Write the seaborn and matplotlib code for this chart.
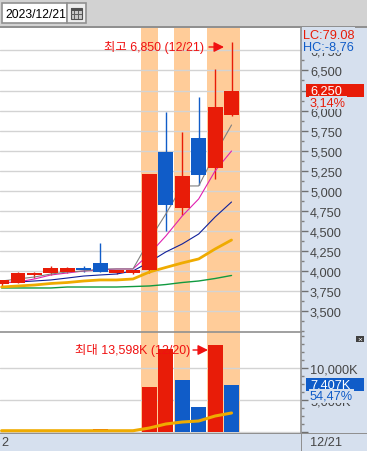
import numpy as np
import pandas as pd
import matplotlib
matplotlib.use("Agg")
import matplotlib.pyplot as plt
from matplotlib.patches import Rectangle, FancyArrowPatch
from matplotlib.ticker import MultipleLocator
import seaborn as sns

# ---------- data ----------
index = list(range(15))
open_ = [3838, 3850, 3950, 3975, 3987, 4037, 4100, 3975, 3975, 4015, 5484, 4785, 5658, 5284, 5945]
close = [3888, 3975, 3975, 4037, 4037, 4012, 3987, 4012, 4012, 5210, 4823, 5185, 5197, 6045, 6250]
high = [3888, 3987, 3987, 4062, 4050, 4062, 4350, 4012, 4012, 5210, 5982, 5733, 6170, 6519, 6850]
low = [3816, 3850, 3912, 3950, 3975, 3987, 3987, 3962, 3962, 3975, 4502, 4698, 5072, 5147, 5933]
ma_gray = [3875, 3900, 3925, 3962, 3987, 4000, 4025, 4025, 4025, 4386, 4711, 5060, 5060, 5459, 5820]
ma_pink = [3851, 3863, 3900, 3950, 3975, 4000, 4012, 4025, 4025, 4212, 4436, 4686, 4898, 5247, 5496]
ma_navy = [3851, 3863, 3875, 3888, 3912, 3937, 3950, 3962, 4000, 4112, 4237, 4337, 4461, 4673, 4860]
ma_orange = [3800, 3813, 3825, 3844, 3856, 3875, 3888, 3888, 3900, 3987, 4044, 4100, 4150, 4274, 4386]
ma_green = [3788, 3788, 3788, 3788, 3800, 3800, 3800, 3800, 3806, 3813, 3831, 3856, 3875, 3906, 3944]
volume = [60, 80, 60, 70, 60, 60, 450, 60, 70, 7000, 12900, 8100, 3900, 13598, 7407]
volume_rising = [True, True, False, True, False, False, True, False, True, True, True, False, False, True, False]
vol_ma = [200, 200, 200, 200, 200, 200, 200, 200, 200, 625, 1250, 1560, 1720, 2500, 2970]
highlight_groups = [(9, 9), (11, 11), (13, 14)]
price_ticks = [3500, 3750, 4000, 4250, 4500, 4750, 5000, 5250, 5500, 5750, 6000, 6250, 6500, 6750]
volume_ticks = [0, 5000, 10000]
volume_labels = ["", "5,000K", "10,000K"]
# ---------- style ----------
RED, BLUE = "#E81C08", "#105CC8"
BAND, GRID = "#FFCC99", "#D3D3D3"
PANEL, TOPBAR, BORDER = "#D6E0EE", "#D2D2D2", "#909090"
TXT = "#454545"
W, H = 367, 452

sns.set_theme(style="white")
plt.rcParams["font.family"] = ["Liberation Sans", "Noto Sans CJK KR", "DejaVu Sans"]
fig = plt.figure(figsize=(W / 100, H / 100), dpi=100, facecolor="white")


def fx(x):
    return x / W


def fy(y):
    return 1 - y / H


def rect(x0, y0, x1, y1, z=-1, **kw):
    fig.add_artist(Rectangle((fx(x0), fy(y1)), (x1 - x0) / W, (y1 - y0) / H,
                             transform=fig.transFigure, zorder=z, linewidth=kw.pop("lw", 0), **kw))


def label(x, y, s, color, size=9.2, z=10, **kw):
    fig.text(fx(x), fy(y), s, color=color, fontsize=size, va="center", ha=kw.pop("ha", "left"), zorder=z, **kw)


rect(0, 0, W, 27, facecolor=TOPBAR)
rect(301, 28, W, H, facecolor=PANEL)
rect(0, 434, 301, H, facecolor=PANEL)

ax = fig.add_axes([0, fy(333), 301 / W, 305 / H], zorder=1)
axv = fig.add_axes([0, fy(434), 301 / W, 101 / H], zorder=1)

df = pd.DataFrame({"i": index, "open": open_, "close": close, "high": high, "low": low,
                   "vol": volume, "vol_up": volume_rising})
df["up"] = df["close"] >= df["open"]
df["bottom"] = df[["open", "close"]].min(axis=1)
df["height"] = (df["close"] - df["open"]).abs()

XLIM = (-0.097, 18.23)
for a in (ax, axv):
    a.set_facecolor("white")
    for g0, g1 in highlight_groups:
        a.axvspan(g0 - 0.5, g1 + 0.5, color=BAND, lw=0, zorder=0.4)
    a.set_axisbelow(True)
    a.yaxis.grid(True, color=GRID, lw=1.0)
    a.xaxis.grid(False)

# candles and volume bars
for up, col in ((True, RED), (False, BLUE)):
    part = df[df["up"] == up]
    ax.vlines(part["i"], part["low"], part["high"], color=col, lw=1.0, zorder=2)
    sns.barplot(data=part, x="i", y="height", bottom=part["bottom"].values, native_scale=True,
                color=col, saturation=1, width=0.91, errorbar=None, linewidth=0, ax=ax, zorder=3)
    vpart = df[df["vol_up"] == up]
    sns.barplot(data=vpart, x="i", y="vol", native_scale=True,
                color=col, saturation=1, width=0.91, errorbar=None, linewidth=0, ax=axv, zorder=3)

# moving averages
for vals, col, lw in ((ma_green, "#109A40", 1.0), (ma_orange, "#EFAB00", 2.0), (ma_navy, "#10209A", 0.8),
                      (ma_pink, "#E020B0", 0.8), (ma_gray, "#808080", 0.8)):
    sns.lineplot(x=index, y=vals, color=col, lw=lw, errorbar=None, ax=ax, zorder=2.5)
sns.lineplot(x=index, y=vol_ma, color="#EFAB00", lw=2.2, errorbar=None, ax=axv, zorder=4)

ax.set_xlim(*XLIM)
ax.set_ylim(3239, 7042)
axv.set_xlim(*XLIM)
axv.set_ylim(-156, 15625)

for a in (ax, axv):
    a.set_xlabel("")
    a.set_ylabel("")
    a.set_xticks([])
    a.yaxis.tick_right()
    for s in ("left", "bottom"):
        a.spines[s].set_visible(False)
    a.spines["top"].set_color(BORDER)
    a.spines["top"].set_linewidth(1.2)
    a.spines["right"].set_color(BORDER)
    a.spines["right"].set_linewidth(1.2)

ax.set_yticks(price_ticks)
ax.set_yticklabels([f"{v:,}" for v in price_ticks])
ax.yaxis.set_minor_locator(MultipleLocator(125))
axv.set_yticks(volume_ticks)
axv.set_yticklabels(volume_labels)
axv.yaxis.set_minor_locator(MultipleLocator(1250))
for a in (ax, axv):
    a.tick_params(axis="y", which="major", right=True, length=5, width=1, color="#707070",
                  labelcolor=TXT, labelsize=9.2, pad=1.5)
    a.tick_params(axis="y", which="minor", right=True, length=2.5, width=1, color="#808080")

# borders
rect(0, 433.5, W, 435, z=6, facecolor=BORDER)
rect(300.5, 434, 302, H, z=6, facecolor=BORDER)
rect(0, 27, W, 28.5, z=6, facecolor=BORDER)

# right panel tags
label(303, 35, "LC:79,08", RED, bbox=dict(facecolor=PANEL, edgecolor="none", pad=0.6))
label(303, 47, "HC:-8,76", BLUE, bbox=dict(facecolor=PANEL, edgecolor="none", pad=0.6))
rect(306, 85, 364, 98, z=9, facecolor=RED)
label(310, 91.5, "6,250", "white")
label(310, 103.5, "3,14%", RED, bbox=dict(facecolor=PANEL, edgecolor="none", pad=0.6))
rect(306, 379, 364, 392, z=9, facecolor=BLUE)
label(310, 385.5, "7,407K", "white")
label(310, 397, "54,47%", BLUE, bbox=dict(facecolor=PANEL, edgecolor="none", pad=0.4))

# annotations
label(104, 47.5, "최고 6,850 (12/21)", "#F01010", size=8.9)
label(75, 350.5, "최대 13,598K (12/20)", "#F01010", size=8.9)
for x0, x1, y in ((209, 224, 48), (193, 208, 351)):
    fig.add_artist(FancyArrowPatch(
        (fx(x0), fy(y)), (fx(x1), fy(y)), transform=fig.transFigure, arrowstyle="-|>",
        mutation_scale=15, color="#F01010", lw=1.0, shrinkA=0, shrinkB=0, zorder=10))

# bottom axis labels
label(1, 443, "2", TXT)
label(310, 443, "12/21", TXT)

# volume panel icon
rect(356, 337, 364, 343, z=9, facecolor="#404040")
label(360, 340, "×", "white", size=6, ha="center")

# date box
rect(2, 4, 67, 24, z=2, facecolor="white", edgecolor=BORDER, lw=1.2)
rect(67, 4, 86, 24, z=2, facecolor="#EDEDED", edgecolor=BORDER, lw=1.2)
label(5, 14.5, "2023/12/21", "black", size=8.7)
rect(70.5, 9, 81.5, 19.5, z=3, facecolor="#C8C8C8", edgecolor="#505050", lw=0.8)
rect(70.5, 9, 81.5, 11.5, z=4, facecolor="#505050")
for xx in (74, 78):
    rect(xx, 11.5, xx + 0.7, 19.5, z=4, facecolor="#606060")
rect(70.5, 15, 81.5, 15.7, z=4, facecolor="#606060")

fig.savefig("out.png", dpi=100)
